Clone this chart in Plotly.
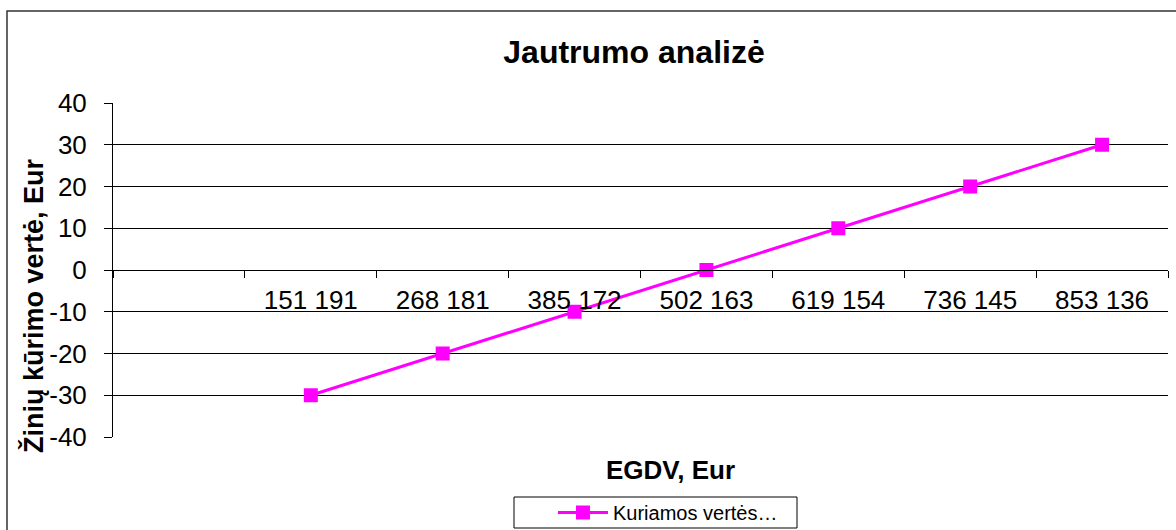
import plotly.graph_objects as go

categories = [" ", "151 191", "268 181", "385 172", "502 163", "619 154", "736 145", "853 136"]
values = [None, -30, -20, -10, 0, 10, 20, 30]
series_name = "Kuriamos vertės…"
y_ticks = [40, 30, 20, 10, 0, -10, -20, -30, -40]

W, H = 1176, 530
L, R, T, B = 113, 1168, 103, 437  # plot area in px
pw, ph = R - L, B - T

def px(x):
    return (x - L) / pw

def py(y):
    return (B - y) / ph

FONT = "Liberation Sans, Arial, sans-serif"

fig = go.Figure()
fig.add_trace(go.Scatter(
    x=categories, y=values, name=series_name, mode="lines+markers",
    line=dict(color="#FF00FF", width=3),
    marker=dict(symbol="square", size=14, color="#FF00FF"),
    connectgaps=False,
))

fig.update_layout(
    width=W, height=H,
    margin=dict(l=L, r=W - R, t=T, b=H - B, autoexpand=False),
    paper_bgcolor="white", plot_bgcolor="white",
    font=dict(family=FONT, color="black"),
    title=dict(text="<b>Jautrumo analizė</b>", x=634 / W, xanchor="center",
               y=1 - 52 / H, yanchor="middle", font=dict(size=32, family=FONT)),
    showlegend=True,
    legend=dict(x=px(553), y=py(512.5), xanchor="left", yanchor="middle",
                borderwidth=0, bgcolor="rgba(0,0,0,0)",
                font=dict(size=20, family=FONT), itemwidth=50,
                tracegroupgap=0),
    xaxis=dict(
        type="category", categoryorder="array", categoryarray=categories,
        range=[-0.5, len(categories) - 0.5],
        anchor="free", position=0.5,
        showline=True, linecolor="black", linewidth=1,
        ticks="outside", ticklen=7, tickcolor="black", tickson="boundaries",
        showgrid=False, zeroline=False,
        tickfont=dict(size=26, family=FONT),
        ticklabelstandoff=7,
    ),
    yaxis=dict(
        range=[-40, 40], tickvals=y_ticks, ticktext=[str(v) for v in y_ticks],
        showline=True, linecolor="black", linewidth=1,
        ticks="outside", ticklen=8, tickcolor="black",
        showgrid=True, gridcolor="black", gridwidth=1,
        zeroline=True, zerolinecolor="black", zerolinewidth=1,
        tickfont=dict(size=26, family=FONT),
        ticklabelstandoff=12,
    ),
    annotations=[
        dict(text="<b>EGDV, Eur</b>", x=px(670), y=py(470), xref="paper", yref="paper",
             xanchor="center", yanchor="middle", showarrow=False,
             font=dict(size=26, family=FONT)),
        dict(text="<b>Žinių kūrimo vertė, Eur</b>", x=px(33), y=py(306), xref="paper", yref="paper",
             xanchor="center", yanchor="middle", showarrow=False, textangle=-90,
             font=dict(size=27, family=FONT)),
    ],
    shapes=[
        dict(type="rect", xref="paper", yref="paper",
             x0=px(7), x1=px(1185), y0=py(545), y1=py(11),
             line=dict(color="#333333", width=1.5), fillcolor="rgba(0,0,0,0)", layer="below"),
        dict(type="rect", xref="paper", yref="paper",
             x0=px(514), x1=px(797), y0=py(528), y1=py(497),
             line=dict(color="black", width=1), fillcolor="white", layer="above"),
    ],
)

fig.write_html("out.html", config={"displayModeBar": False},
               post_script="document.body.style.margin='0';")
